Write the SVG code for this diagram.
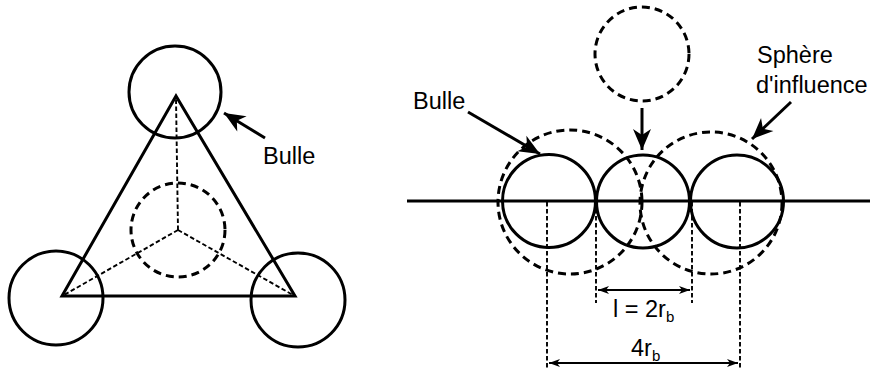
<svg xmlns="http://www.w3.org/2000/svg" width="870" height="374" viewBox="0 0 870 374">
<style>
.solid{fill:none;stroke:#000;stroke-width:3}
.dash{fill:none;stroke:#000;stroke-width:3;stroke-dasharray:8 5}
.thin{fill:none;stroke:#000;stroke-width:1.9;stroke-dasharray:4.5 2.5}
.arr{fill:none;stroke:#000;stroke-width:3}
.dim{fill:none;stroke:#000;stroke-width:1.8}
.lbl{font-family:"Liberation Sans",Arial,sans-serif;font-size:23.5px;fill:#000}
.sub{font-size:15px}
</style>
<defs>
<marker id="big" markerUnits="userSpaceOnUse" markerWidth="26" markerHeight="22" viewBox="-24 -11 26 22" refX="0" refY="0" orient="auto">
<path d="M0,0 L-21,-9 L-15,0 L-21,9 Z" fill="#000"/>
</marker>
<marker id="small" markerUnits="userSpaceOnUse" markerWidth="14" markerHeight="10" viewBox="-12 -5 14 10" refX="0" refY="0" orient="auto-start-reverse">
<path d="M0,0 L-11,-4 L-8,0 L-11,4 Z" fill="#000"/>
</marker>
</defs>

<!-- Left figure -->
<g id="triangle">
<polygon class="solid" points="176,96 62,296 295,296"/>
</g>
<g id="center-bubble">
<circle class="dash" cx="178" cy="230" r="47"/>
</g>
<g id="bubble-top">
<circle class="solid" cx="175" cy="92" r="46"/>
</g>
<g id="bubble-left">
<circle class="solid" cx="56" cy="298" r="47"/>
</g>
<g id="bubble-right">
<circle class="solid" cx="298" cy="300" r="47"/>
</g>
<g id="label-bulle-left">
<text class="lbl" x="263" y="164">Bulle</text>
</g>

<!-- Right figure -->
<g id="surface">
<line class="solid" x1="407" y1="201" x2="870" y2="201"/>
</g>
<g id="influence-left">
<circle class="dash" cx="570" cy="202" r="72"/>
</g>
<g id="influence-right">
<circle class="dash" cx="711" cy="203" r="71"/>
</g>
<g id="bubble-r1">
<circle class="solid" cx="549" cy="201" r="46.5"/>
</g>
<g id="bubble-r2">
<circle class="solid" cx="643" cy="201.5" r="46.5"/>
</g>
<g id="bubble-r3">
<circle class="solid" cx="737" cy="201.5" r="46.5"/>
</g>
<g id="bubble-incoming">
<circle class="dash" cx="642" cy="54" r="47"/>
</g>
<g id="label-bulle-right">
<text class="lbl" x="413" y="109">Bulle</text>
</g>
<g id="label-sphere">
<text class="lbl" x="757" y="63">Sphère</text>
<text class="lbl" x="756" y="93">d'influence</text>
</g>
<g id="label-l">
<text class="lbl" x="613" y="317">l = 2r<tspan class="sub" dy="5">b</tspan></text>
</g>
<g id="label-4r">
<text class="lbl" x="631" y="356">4r<tspan class="sub" dy="5">b</tspan></text>
</g>

<g id="connectors">
<line class="thin" x1="178" y1="230" x2="176" y2="98"/>
<line class="thin" x1="178" y1="230" x2="64" y2="295"/>
<line class="thin" x1="178" y1="230" x2="293" y2="295"/>
<line class="arr" x1="265" y1="138" x2="224" y2="113" marker-end="url(#big)"/>
<line class="arr" x1="468" y1="112" x2="540" y2="154" marker-end="url(#big)"/>
<line class="arr" x1="791" y1="102" x2="752" y2="139" marker-end="url(#big)"/>
<line class="arr" x1="642" y1="108" x2="642" y2="150" marker-end="url(#big)"/>
<line class="thin" x1="547" y1="202" x2="547" y2="368"/>
<line class="thin" x1="596" y1="202" x2="596" y2="303"/>
<line class="thin" x1="692" y1="202" x2="692" y2="303"/>
<line class="thin" x1="740" y1="202" x2="740" y2="368"/>
<line class="dim" x1="598" y1="290" x2="690" y2="290" marker-start="url(#small)" marker-end="url(#small)"/>
<line class="dim" x1="549" y1="363" x2="738" y2="363" stroke-width="2.4" marker-start="url(#small)" marker-end="url(#small)"/>
</g>
</svg>
